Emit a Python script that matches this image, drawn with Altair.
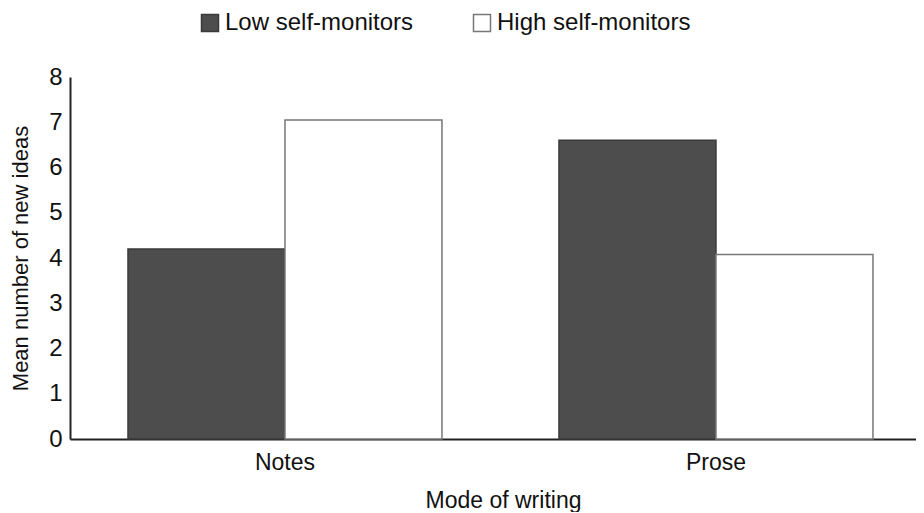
import altair as alt
import pandas as pd

modes = ["Notes", "Notes", "Prose", "Prose"]
groups = ["Low self-monitors", "High self-monitors", "Low self-monitors", "High self-monitors"]
values = [4.2, 7.05, 6.6, 4.08]
group_order = ["Low self-monitors", "High self-monitors"]

df = pd.DataFrame({"mode": modes, "group": groups, "value": values})

FONT = "Liberation Sans"

chart = alt.Chart(df).mark_bar(strokeWidth=1.5).encode(
    x=alt.X("mode:N", title="Mode of writing",
            scale=alt.Scale(paddingInner=0.2715, paddingOuter=0.1172, align=0.574),
            axis=alt.Axis(labelAngle=0, ticks=False, labelPadding=12, titlePadding=15,
                          domainColor="#222222", domainWidth=2,
                          labelFontSize=23, titleFontSize=23, titleFontWeight="normal",
                          labelColor="#111111", titleColor="#111111",
                          labelFont=FONT, titleFont=FONT, titleX=433)),
    xOffset=alt.XOffset("group:N", sort=group_order,
                        scale=alt.Scale(paddingInner=0, paddingOuter=0)),
    y=alt.Y("value:Q", title="Mean number of new ideas",
            scale=alt.Scale(domain=[0, 8], nice=False),
            axis=alt.Axis(values=list(range(9)), grid=False, ticks=False, labelPadding=8,
                          titlePadding=16, domainColor="#222222", domainWidth=2,
                          labelFontSize=24, titleFontSize=22, titleFontWeight="normal",
                          labelColor="#111111", titleColor="#111111",
                          labelFont=FONT, titleFont=FONT)),
    fill=alt.Fill("group:N", sort=group_order,
                  scale=alt.Scale(domain=group_order, range=["#4d4d4d", "#ffffff"]),
                  legend=alt.Legend(title=None, orient="none", direction="horizontal",
                                    legendX=128, legendY=-66,
                                    symbolType="square", symbolSize=289,
                                    symbolStrokeWidth=1.5, labelOffset=3,
                                    columnPadding=56, labelFontSize=24,
                                    labelFont=FONT, labelColor="#111111", labelLimit=400)),
    stroke=alt.Stroke("group:N", sort=group_order,
                      scale=alt.Scale(domain=group_order, range=["#3a3a3a", "#777777"]),
                      legend=None),
).properties(
    width=846, height=362,
    padding={"left": 1, "top": 3, "right": 0, "bottom": 0},
).configure(background="white").configure_view(stroke=None, strokeWidth=0)

chart.save("out.html", embed_options={"renderer": "svg", "actions": False})
